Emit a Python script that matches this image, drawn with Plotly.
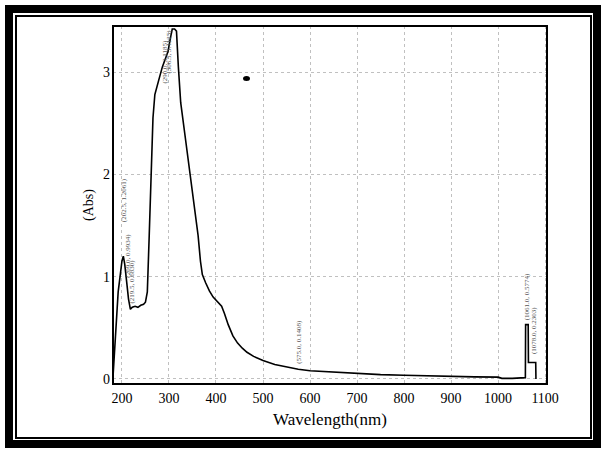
import plotly.graph_objects as go

# Spectrum
wavelength = [181, 184, 188, 192, 196, 200, 203, 206, 210, 214, 218, 222, 228, 234, 240, 246, 250, 254,
              258, 262, 266, 270, 274, 280, 286, 292, 298, 303, 307, 312, 316, 320, 325, 335, 345,
              355, 362, 367, 371, 378, 386, 394, 400, 406, 412, 418, 426, 436, 446, 456, 466, 480,
              500, 525, 550, 575, 600, 650, 700, 750, 800, 850, 900, 950, 1000, 1008, 1030, 1050,
              1058, 1058.5, 1064, 1064.5, 1080, 1080.5]
absorbance = [0.02, 0.25, 0.6, 0.85, 1.0, 1.15, 1.2, 1.12, 0.95, 0.78, 0.68, 0.7, 0.71, 0.7, 0.72, 0.73, 0.75, 0.85,
              1.4, 2.05, 2.55, 2.78, 2.86, 2.95, 3.05, 3.12, 3.2, 3.33, 3.42, 3.42, 3.4, 3.05, 2.7, 2.35, 2.0,
              1.7, 1.4, 1.15, 1.02, 0.94, 0.86, 0.8, 0.77, 0.74, 0.71, 0.64, 0.53, 0.42, 0.35, 0.3, 0.26, 0.22,
              0.18, 0.14, 0.115, 0.095, 0.08, 0.065, 0.05, 0.042, 0.035, 0.028, 0.022, 0.02, 0.017, 0.005, 0.005, 0.01,
              0.012, 0.53, 0.53, 0.16, 0.16, 0.0]

x_ticks = [200, 300, 400, 500, 600, 700, 800, 900, 1000, 1100]
y_ticks = [0, 1, 2, 3]

# Peak-pick labels (rotated text on the scan)
label_x = [205, 214, 221, 291, 300, 576, 1062, 1077]
label_y = [1.75, 1.2, 0.95, 3.1, 3.2, 0.36, 0.8, 0.47]
label_text = ["(202.5, 1.2061)", "(209.0, 0.9934)", "(219.5, 0.6830)", "(290.0, 3.1185)",
              "(306.5, 3.4125)", "(575.0, 0.1408)", "(1061.0, 0.5774)", "(1078.0, 0.2303)"]

W, H = 602, 452
L, R, T, B = 113, 55, 26, 68
pw, ph = W - L - R, H - T - B

def px(x):
    return (x - L) / pw

def py(y):
    return (H - B - y) / ph

fig = go.Figure()
fig.add_trace(go.Scatter(x=wavelength, y=absorbance, mode="lines",
                         line=dict(color="black", width=1.6), showlegend=False, hoverinfo="skip"))

for lx, ly, lt in zip(label_x, label_y, label_text):
    fig.add_annotation(x=lx, y=ly, text=lt, showarrow=False, textangle=-90,
                       font=dict(family="Liberation Serif", size=7, color="#555555"))

shapes = [
    # outer thick frame
    dict(type="rect", xref="paper", yref="paper", x0=px(9), x1=px(597), y0=py(444), y1=py(9),
         line=dict(color="black", width=8), layer="above"),
    # inner thin frame
    dict(type="rect", xref="paper", yref="paper", x0=px(16), x1=px(591), y0=py(438), y1=py(16),
         line=dict(color="black", width=2), layer="above"),
    # plot box
    dict(type="rect", xref="paper", yref="paper", x0=0, x1=1, y0=0, y1=1,
         line=dict(color="black", width=2), layer="above"),
    # scan blob
    dict(type="circle", xref="paper", yref="paper", x0=px(243), x1=px(250), y0=py(81), y1=py(76),
         fillcolor="black", line=dict(color="black", width=0)),
]

fig.update_layout(
    width=W, height=H,
    margin=dict(l=L, r=R, t=T, b=B),
    paper_bgcolor="white", plot_bgcolor="white",
    font=dict(family="Liberation Serif", color="black", size=14),
    shapes=shapes,
    xaxis=dict(range=[181, 1104], tickvals=x_ticks, ticktext=[str(v) for v in x_ticks],
               showgrid=True, gridcolor="#c0c0c0", griddash="dot", gridwidth=1,
               zeroline=False, showline=False, ticks="", ticklabelstandoff=4,
               title=dict(text="Wavelength(nm)", font=dict(size=17), standoff=8)),
    yaxis=dict(range=[-0.05, 3.45], tickvals=y_ticks, ticktext=[str(v) for v in y_ticks],
               showgrid=True, gridcolor="#c0c0c0", griddash="dot", gridwidth=1,
               zeroline=False, showline=False, ticks="", ticklabelstandoff=2,
               title=dict(text="(Abs)", font=dict(size=14), standoff=6)),
)

fig.write_html("out.html")
